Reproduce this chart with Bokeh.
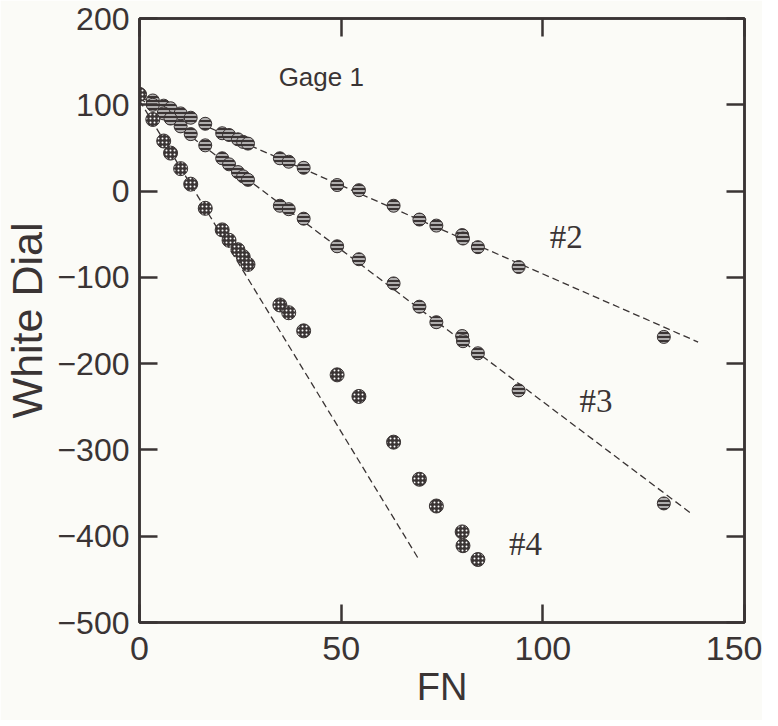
from bokeh.plotting import figure
from bokeh.models import Range1d, LinearAxis, FixedTicker, Label
from bokeh.embed import file_html
from bokeh.resources import INLINE

# ---- data ----
fn = [0, 3.3, 6.0, 7.7, 10.2, 12.7, 16.3, 20.5, 22.2, 24.4, 25.7, 26.9,
      34.8, 37.0, 40.7, 49.0, 54.4, 63.0, 69.4, 73.6, 80.0, 80.2, 83.9, 94, 130]
dial2 = [112, 105, 99, 96, 90, 85, 78, 67, 65, 60, 57, 55,
         38, 34, 27, 7, 1, -17, -33, -40, -51, -55, -65, -88, -169]
dial3 = [112, 100, 90, 84, 75, 66, 53, 38, 31, 22, 17, 13,
         -17, -21, -32, -64, -79, -107, -134, -152, -168, -174, -188, -231, -362]
fn4 = [0, 3.3, 6.0, 7.7, 10.2, 12.7, 16.3, 20.5, 22.2, 24.4, 25.7, 26.9,
       34.8, 37.0, 40.7, 49.0, 54.4, 63.0, 69.4, 73.6, 80.0, 80.2, 83.9]
dial4 = [112, 83, 58, 44, 26, 8, -20, -45, -57, -68, -76, -85,
         -132, -141, -162, -213, -238, -291, -334, -365, -395, -411, -427]

# dashed fit lines (end points)
fit2_x = [0, 138.5]
fit2_y = [109, -175]
fit3_x = [0, 136.6]
fit3_y = [108, -373]
fit4_x = [0, 69.4]
fit4_y = [105, -428]

x_ticks = [0, 50, 100, 150]
y_ticks = [-500, -400, -300, -200, -100, 0, 100, 200]

INK = "#3a3434"
BG = "#fbfbf7"
SANS = "Liberation Sans"

p = figure(width=762, height=720, x_range=Range1d(0, 150), y_range=Range1d(-500, 200),
           output_backend="svg", toolbar_location=None,
           min_border_left=130, min_border_right=18, min_border_top=18, min_border_bottom=98,
           background_fill_color=BG, border_fill_color=BG)
p.grid.visible = False
p.outline_line_color = INK
p.outline_line_width = 2.5

for ax in (p.xaxis[0], p.yaxis[0]):
    ax.major_tick_in = 18
    ax.major_tick_out = 0
    ax.minor_tick_line_color = None
    ax.axis_line_color = INK
    ax.axis_line_width = 2.5
    ax.major_tick_line_color = INK
    ax.major_tick_line_width = 2.5
    ax.major_label_text_font = SANS
    ax.major_label_text_color = INK
    ax.axis_label_text_font = SANS
    ax.axis_label_text_font_style = "normal"
    ax.axis_label_text_color = INK

p.xaxis[0].ticker = FixedTicker(ticks=x_ticks)
p.yaxis[0].ticker = FixedTicker(ticks=y_ticks)
p.xaxis[0].axis_label = "FN"
p.yaxis[0].axis_label = "White Dial"
p.xaxis[0].major_label_text_font_size = "34px"
p.yaxis[0].major_label_text_font_size = "32px"
p.xaxis[0].axis_label_text_font_size = "38px"
p.yaxis[0].axis_label_text_font_size = "43px"
p.xaxis[0].major_label_standoff = 14
p.yaxis[0].major_label_standoff = 10
p.xaxis[0].axis_label_standoff = 3
p.yaxis[0].axis_label_standoff = 3

top = LinearAxis(ticker=FixedTicker(ticks=x_ticks), major_label_text_font_size="1px",
                 major_label_text_color=None, major_label_standoff=0,
                 major_tick_in=18, major_tick_out=0, minor_tick_line_color=None,
                 axis_line_color=INK, axis_line_width=2.5, major_tick_line_color=INK,
                 major_tick_line_width=2.5)
right = LinearAxis(ticker=FixedTicker(ticks=y_ticks), major_label_text_font_size="1px",
                   major_label_text_color=None, major_label_standoff=0,
                   major_tick_in=18, major_tick_out=0, minor_tick_line_color=None,
                   axis_line_color=INK, axis_line_width=2.5, major_tick_line_color=INK,
                   major_tick_line_width=2.5)
p.add_layout(top, "above")
p.add_layout(right, "right")

# fit lines
for fx, fy in ((fit2_x, fit2_y), (fit3_x, fit3_y), (fit4_x, fit4_y)):
    p.line(fx, fy, line_color=INK, line_width=1.3, line_dash="7 4")

# points
p.scatter(fn, dial2, size=13, fill_color=INK, line_color=INK, line_width=1,
          hatch_pattern="horizontal_line", hatch_color="white", hatch_scale=4, hatch_weight=1.2)
p.scatter(fn, dial3, size=13, fill_color=INK, line_color=INK, line_width=1,
          hatch_pattern="horizontal_line", hatch_color="white", hatch_scale=4, hatch_weight=1.2)
p.scatter(fn4, dial4, size=14, fill_color=INK, line_color=INK, line_width=1,
          hatch_pattern="dot", hatch_color="white", hatch_scale=4, hatch_weight=1)

p.add_layout(Label(x=34.5, y=132, text="Gage 1", text_align="left", text_baseline="middle",
                   text_font=SANS, text_font_size="26px", text_color=INK))
p.add_layout(Label(x=105.8, y=-53, text="#2", text_align="center", text_baseline="middle",
                   text_font="Liberation Serif", text_font_size="33px", text_color=INK))
p.add_layout(Label(x=113.2, y=-243, text="#3", text_align="center", text_baseline="middle",
                   text_font="Liberation Serif", text_font_size="33px", text_color=INK))
p.add_layout(Label(x=95.7, y=-409, text="#4", text_align="center", text_baseline="middle",
                   text_font="Liberation Serif", text_font_size="33px", text_color=INK))

open("out.html", "w").write(file_html(p, INLINE))
